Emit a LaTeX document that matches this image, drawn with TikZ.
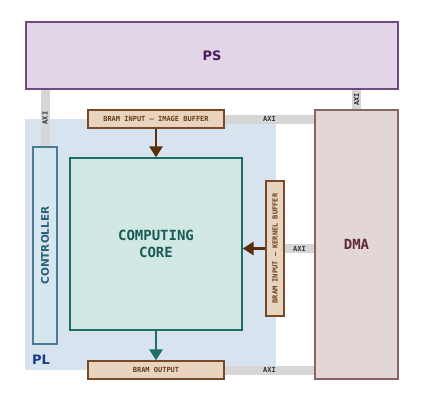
\documentclass[tikz,border=0pt]{standalone}
\usepackage{fontspec}
\setmainfont{DejaVu Sans}
\setmonofont{DejaVu Sans Mono}
\usetikzlibrary{arrows.meta,positioning,calc,backgrounds}

\definecolor{psfill}{HTML}{E1D5E7}
\definecolor{psdraw}{HTML}{6F4B82}
\definecolor{pstext}{HTML}{4B1A5E}
\definecolor{plfill}{HTML}{D7E3EE}
\definecolor{pltext}{HTML}{1A3C8A}
\definecolor{ctrlfill}{HTML}{D6E6EE}
\definecolor{ctrldraw}{HTML}{4B7B93}
\definecolor{ctrltext}{HTML}{2A5E78}
\definecolor{corefill}{HTML}{D0E7E3}
\definecolor{coredraw}{HTML}{1F6E66}
\definecolor{coretext}{HTML}{1A5C55}
\definecolor{bramfill}{HTML}{E8D4BF}
\definecolor{bramdraw}{HTML}{7A4A28}
\definecolor{bramtext}{HTML}{6A3D1A}
\definecolor{bramarrow}{HTML}{5A2D0C}
\definecolor{dmafill}{HTML}{E2D6D6}
\definecolor{dmadraw}{HTML}{8A6464}
\definecolor{dmatext}{HTML}{5E2A33}
\definecolor{axigray}{HTML}{D6D6D6}

\begin{document}
\begin{tikzpicture}[
    x=1pt,y=-1pt,
    box/.style={inner sep=0pt, line width=1.3pt},
    bram/.style={box, fill=bramfill, draw=bramdraw, text=bramtext, minimum width=136pt, minimum height=18pt, font=\ttfamily\bfseries\fontsize{7}{8}\selectfont},
    axi/.style={line width=9pt, draw=axigray},
    axilabel/.style={inner sep=0pt, text=black!80, font=\ttfamily\bfseries\fontsize{7}{8}\selectfont},
    flow/.style={-{Triangle[width=13pt,length=11pt]}, line width=2.8pt}
  ]
    % Bounding box
    \path[use as bounding box] (0,0) rectangle (423,404);

    % PS und DMA
    \node[box, fill=psfill, draw=psdraw, text=pstext, minimum width=372pt, minimum height=67pt, font=\bfseries\fontsize{13}{16}\selectfont] (ps) at (212,55.5) {PS};
    \node[box, fill=dmafill, draw=dmadraw, text=dmatext, minimum width=83pt, minimum height=269pt, font=\ttfamily\bfseries\fontsize{14}{16}\selectfont] (dma) at (356.5,244.5) {DMA};

    % Bausteine im PL
    \node[box, fill=ctrlfill, draw=ctrldraw, text=ctrltext, minimum width=197pt, minimum height=24pt, rotate=90, font=\bfseries\fontsize{10.5}{13}\selectfont] (ctrl) at (45,245.5) {CONTROLLER};
    \node[box, fill=corefill, draw=coredraw, text=coretext, minimum width=172pt, minimum height=172pt, align=center, font=\ttfamily\bfseries\fontsize{14}{17}\selectfont] (core) at (156,244) {COMPUTING\\CORE};
    \node[bram] (imgbuf) at (156,119) {BRAM INPUT – IMAGE BUFFER};
    \node[bram, minimum width=135pt, rotate=90] (kerbuf) at (275,248.5) {BRAM INPUT – KERNEL BUFFER};
    \node[bram] (outbuf) at (156,370) {BRAM OUTPUT};

    % PL Bereich und AXI Verbindungen (hinten)
    \begin{pgfonlayer}{background}
      \node[inner sep=0pt, fill=plfill, minimum width=251pt, minimum height=251pt] (pl) at (150.5,244.5) {};
      \node[text=pltext, font=\bfseries\fontsize{13}{16}\selectfont] (pllabel) at (41,360) {PL};
      \draw[axi] (ps.south -| ctrl.center) -- node[axilabel, rotate=90] (axi1) {AXI} (ctrl.east);
      \draw[axi] (ps.south -| dma.north) -- node[axilabel, rotate=90] (axi2) {AXI} (dma.north);
      \draw[axi] (imgbuf.east) -- node[axilabel] (axi3) {AXI} (imgbuf.east -| dma.west);
      \draw[axi] (kerbuf.south) -- node[axilabel] (axi4) {AXI} (kerbuf.south -| dma.west);
      \draw[axi] (outbuf.east) -- node[axilabel] (axi5) {AXI} (outbuf.east -| dma.west);
    \end{pgfonlayer}

    % Datenfluss
    \draw[flow, draw=bramarrow, fill=bramarrow] (imgbuf.south) -- (core.north);
    \draw[flow, draw=bramarrow, fill=bramarrow] (kerbuf.north) -- (kerbuf.north -| core.east);
    \draw[flow, draw=coredraw, fill=coredraw] (core.south) -- (outbuf.north);
  \end{tikzpicture}
\end{document}
